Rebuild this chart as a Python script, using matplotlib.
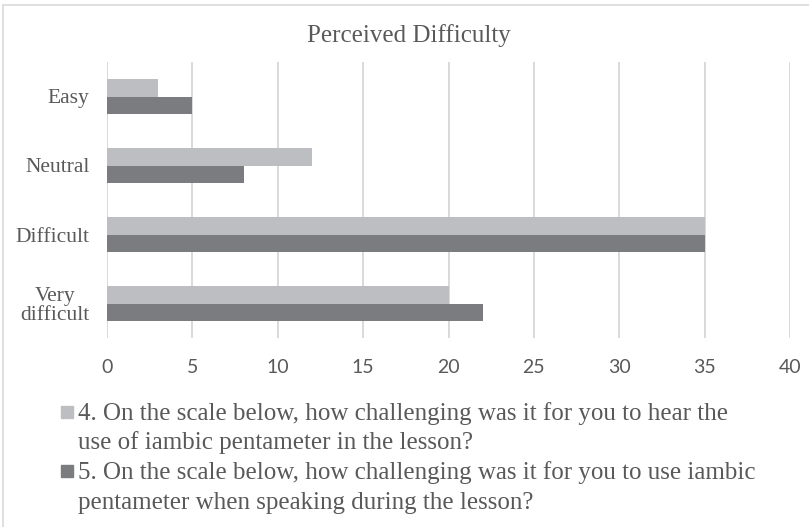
import numpy as np
import matplotlib.pyplot as plt
from matplotlib.patches import Rectangle

# --- Daten ---
categories = ['Easy', 'Neutral', 'Difficult', 'Very\ndifficult']
q4_values = [3, 12, 35, 20]   # hear iambic pentameter
q5_values = [5, 8, 35, 22]    # use iambic pentameter when speaking
series_labels = [
    ['4. On the scale below, how challenging was it for you to hear the',
     'use of iambic pentameter in the lesson?'],
    ['5. On the scale below, how challenging was it for you to use iambic',
     'pentameter when speaking during the lesson?'],
]
x_ticks = [0, 5, 10, 15, 20, 25, 30, 35, 40]

light = '#BDBEC1'
dark = '#7B7C7F'
text_col = '#595959'
serif = 'Liberation Serif'
sans = 'Lato'
W, H = 809, 527

fig = plt.figure(figsize=(W/100, H/100), dpi=100)
ax = fig.add_axes([107/W, 1 - 338/H, 683/W, 276/H])

y = np.arange(len(categories))
h = 0.26
ax.barh(y - h/2, q4_values, height=h, color=light, zorder=3)
ax.barh(y + h/2, q5_values, height=h, color=dark, zorder=3)

ax.set_xlim(0, 40)
ax.set_ylim(len(categories) - 0.5, -0.5)
ax.set_xticks(x_ticks)
ax.set_yticks(y)
ax.set_yticklabels(categories, fontfamily=serif, fontsize=15.5, color=text_col,
                   multialignment='center', linespacing=1.0)
for lab in ax.get_xticklabels():
    lab.set_fontfamily(sans)
    lab.set_fontsize(14)
    lab.set_color(text_col)
ax.tick_params(length=0)
ax.tick_params(axis='x', pad=15)
ax.tick_params(axis='y', pad=12.5)
ax.grid(axis='x', color='#D9D9D9', linewidth=1.4, zorder=0)
for s in ax.spines.values():
    s.set_visible(False)

fig.text(409/W, 1 - 42/H, 'Perceived Difficulty', ha='center', va='baseline',
         fontfamily=serif, fontsize=18, color=text_col)

# Legende von Hand: Quadrat an der ersten Zeile, Zeilen einzeln gesetzt
line_step = 29.5
for i, (col, lines) in enumerate(zip([light, dark], series_labels)):
    base = 420 + 2 * i * line_step
    fig.patches.append(Rectangle((61/W, 1 - (base - 2)/H), 12/W, 12/H,
                                 transform=fig.transFigure, color=col))
    for j, line in enumerate(lines):
        fig.text(78/W, 1 - (base + j * line_step)/H, line, ha='left',
                 va='baseline', fontfamily=serif, fontsize=18, color=text_col)

# Rahmen
fig.patches.append(Rectangle((3/W, -0.05), 1.1, 1 - 5/H + 0.05,
                             transform=fig.transFigure, fill=False,
                             edgecolor='#D9D9D9', linewidth=1.2))

fig.savefig('out.png', dpi=100)
